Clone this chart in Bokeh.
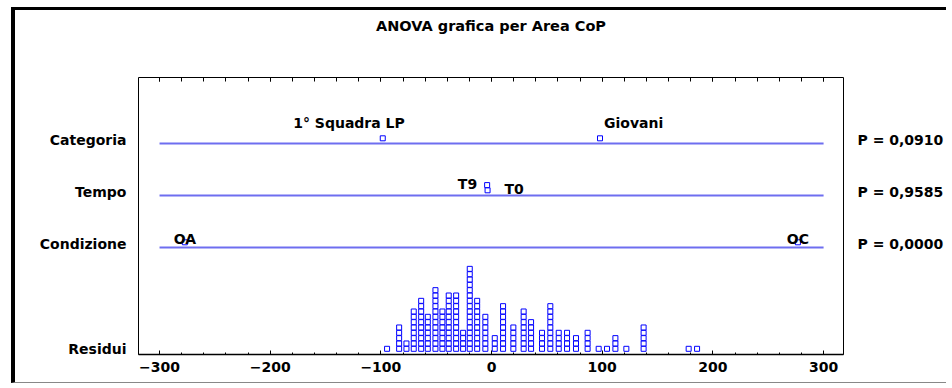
from bokeh.plotting import figure
from bokeh.models import (Range1d, LinearAxis, FixedTicker, SingleIntervalTicker,
                          ColumnDataSource)
from bokeh.core.properties import value
from bokeh.embed import file_html
from bokeh.resources import INLINE

# ---------------- data ----------------
TITLE = "ANOVA grafica per Area CoP"
factor_names = ["Categoria", "Tempo", "Condizione"]
p_labels = ["P = 0,0910", "P = 0,9585", "P = 0,0000"]
resid_name = "Residui"

cat_levels = ["1° Squadra LP", "Giovani"]
cat_effects = [-98.3, 98.0]
tempo_levels = ["T0", "T9"]
tempo_effects = [-3.6, -4.0]
cond_levels = ["OA", "OC"]
cond_effects = [-277.1, 276.8]

resid_bins = [-94.4, -83.5, -76.9, -70.3, -63.6, -57.6, -50.7, -44.4, -38.7, -32.0,
              -25.7, -19.7, -13.0, -5.6, 2.9, 10.4, 19.7, 29.0, 35.7, 45.6,
              53.1, 60.7, 68.2, 76.3, 86.8, 96.8, 104.3, 111.9, 121.8, 137.4,
              178.1, 185.7]
resid_counts = [1, 5, 2, 8, 10, 7, 12, 8, 11, 11,
                4, 16, 10, 7, 3, 9, 5, 8, 6, 4,
                9, 4, 4, 3, 4, 1, 1, 3, 1, 5,
                1, 1]

# ---------------- layout constants ----------------
X_START, X_END = -319, 318
LINE_FROM, LINE_TO = -300, 300
Y_TOP = 277
ROW_Y = [211, 159, 107]          # baseline of each factor row
LABEL_SHIFT = 4                  # axis label above the row line
RESID_BASE = 5.7
RESID_STEP = 5.33
FACTOR_STEP = 5.2
BIN_W = 7.0

FONT = "DejaVu Sans"
FS = "14px"
BLUE = "#0000ff"
LINE_BLUE = "#6e6ef0"
INK = "black"

p = figure(width=935, height=376, x_range=Range1d(X_START, X_END),
           y_range=Range1d(0, Y_TOP), output_backend="svg", toolbar_location=None,
           x_axis_location=None, y_axis_location=None, title=None,
           min_border_left=123, min_border_right=107, min_border_top=67,
           min_border_bottom=32)
p.grid.visible = False
p.background_fill_color = "white"
p.border_fill_color = "white"
p.outline_line_color = INK
p.outline_line_width = 1
p.styles = {"margin-left": "11px", "margin-top": "7px",
            "border-left": "4px solid black", "border-top": "3px solid black",
            "border-bottom": "1px solid #888888"}

# axes
xb = LinearAxis(ticker=SingleIntervalTicker(interval=100, num_minor_ticks=5))
xb.major_tick_in = 4
xb.major_tick_out = 0
xb.minor_tick_in = 2
xb.minor_tick_out = 0
xb.axis_line_color = INK
xb.axis_line_width = 1.5
xb.major_tick_line_color = INK
xb.minor_tick_line_color = INK
xb.major_label_text_font = FONT
xb.major_label_text_font_style = "bold"
xb.major_label_text_font_size = FS
xb.major_label_text_color = INK
xb.major_label_standoff = 7
p.add_layout(xb, "below")

# top axis: inward ticks, no tick labels, carries the chart title as its label
xt = LinearAxis(ticker=SingleIntervalTicker(interval=100, num_minor_ticks=5))
xt.major_tick_in = 4
xt.major_tick_out = 0
xt.minor_tick_in = 4
xt.minor_tick_out = 0
xt.major_tick_line_color = INK
xt.minor_tick_line_color = INK
xt.axis_line_color = None
xt.major_label_text_font_size = "0px"
xt.major_label_text_color = None
xt.major_label_standoff = 0
xt.axis_label = TITLE
xt.axis_label_standoff = 44
xt.axis_label_text_font = FONT
xt.axis_label_text_font_style = "bold"
xt.axis_label_text_font_size = "14.5px"
xt.axis_label_text_color = INK
p.add_layout(xt, "above")

left_ticks = [y + LABEL_SHIFT for y in ROW_Y] + [round(RESID_BASE)]
left_names = factor_names + [resid_name]
yl = LinearAxis(ticker=FixedTicker(ticks=left_ticks),
                major_label_overrides={t: n for t, n in zip(left_ticks, left_names)})
yl.major_tick_in = 0
yl.major_tick_out = 0
yl.major_tick_line_color = None
yl.minor_tick_line_color = None
yl.axis_line_color = None
yl.major_label_standoff = 12
yl.major_label_text_font = FONT
yl.major_label_text_font_style = "bold"
yl.major_label_text_font_size = FS
yl.major_label_text_color = INK
p.add_layout(yl, "left")

right_ticks = [y + LABEL_SHIFT for y in ROW_Y]
yr = LinearAxis(ticker=FixedTicker(ticks=right_ticks),
                major_label_overrides={t: n for t, n in zip(right_ticks, p_labels)})
yr.major_tick_in = 0
yr.major_tick_out = 0
yr.major_tick_line_color = None
yr.minor_tick_line_color = None
yr.axis_line_color = None
yr.major_label_standoff = 14
yr.major_label_text_font = FONT
yr.major_label_text_font_style = "bold"
yr.major_label_text_font_size = FS
yr.major_label_text_color = INK
p.add_layout(yr, "right")

# factor lines
p.segment(x0=[LINE_FROM] * len(ROW_Y), x1=[LINE_TO] * len(ROW_Y), y0=ROW_Y, y1=ROW_Y,
          line_color=LINE_BLUE, line_width=2)

# residual dot plot
rx, ry = [], []
for b, c in zip(resid_bins, resid_counts):
    for k in range(c):
        rx.append(b)
        ry.append(RESID_BASE + k * RESID_STEP)
p.scatter(rx, ry, marker="square", size=5, line_color=BLUE, fill_color="white", line_width=1)

# factor points (stacked dot plot per row)
groups = [(cat_levels, cat_effects), (tempo_levels, tempo_effects), (cond_levels, cond_effects)]
label_style = {
    "1° Squadra LP": ("right", 22, -15),
    "Giovani": ("left", 4, -15),
    "T0": ("left", 17, -1),
    "T9": ("right", -10, -1),
    "OA": ("center", 0, -3),
    "OC": ("center", 0, -3),
}
fx, fy, ft, fa, fxo, fyo = [], [], [], [], [], []
for (levels, effects), base in zip(groups, ROW_Y):
    seen = {}
    for lev, eff in zip(levels, effects):
        b = round(eff / BIN_W)
        k = seen.get(b, 0)
        seen[b] = k + 1
        fx.append(eff)
        fy.append(base + (k + 1) * FACTOR_STEP)
        ft.append(lev)
        a, xo, yo = label_style[lev]
        fa.append(a)
        fxo.append(xo)
        fyo.append(yo)

src = ColumnDataSource(dict(x=fx, y=fy, text=ft, align=fa, xo=fxo, yo=fyo))
p.scatter("x", "y", source=src, marker="square", size=5, line_color=BLUE,
          fill_color="white", line_width=1)
p.text("x", "y", text="text", source=src, x_offset="xo", y_offset="yo",
       text_align="align", text_baseline="alphabetic", text_font=value(FONT),
       text_font_style="bold", text_font_size=FS, text_color=INK)

open("out.html", "w").write(file_html(p, INLINE))
